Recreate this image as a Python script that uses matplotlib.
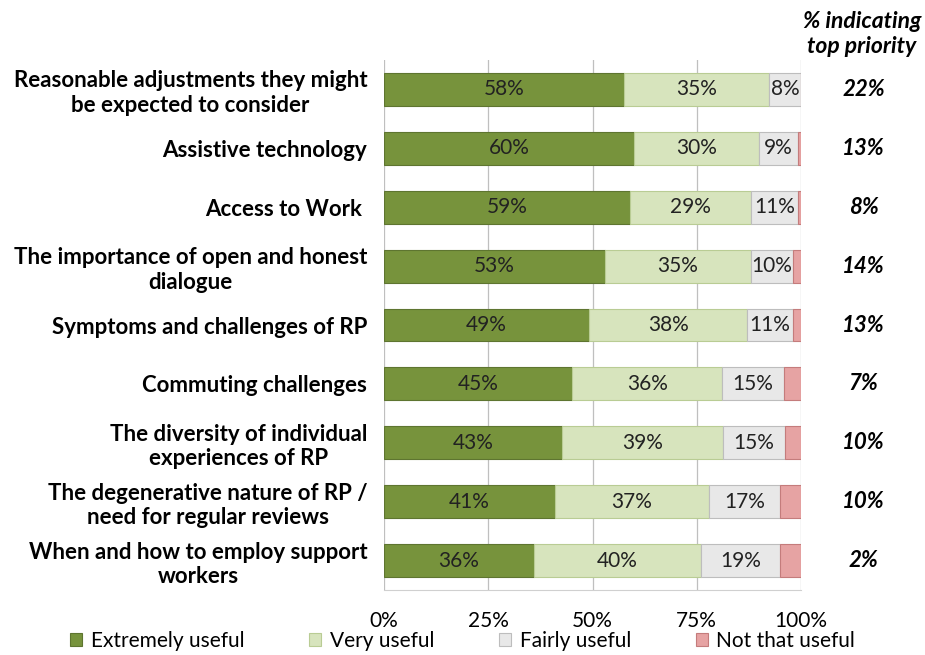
import matplotlib.pyplot as plt

plt.rcParams['font.family'] = ['Lato', 'DejaVu Sans']

categories = [
    "Reasonable adjustments they might\nbe expected to consider",
    "Assistive technology",
    "Access to Work ",
    "The importance of open and honest\ndialogue",
    "Symptoms and challenges of RP",
    "Commuting challenges",
    "The diversity of individual\nexperiences of RP",
    "The degenerative nature of RP /\nneed for regular reviews",
    "When and how to employ support\nworkers",
]
extremely = [57.6, 60.0, 59.0, 53.0, 49.2, 45.1, 42.7, 41.0, 36.0]
very = [34.7, 29.9, 29.0, 35.0, 37.9, 36.0, 38.6, 36.9, 40.0]
fairly = [7.7, 9.4, 11.3, 10.1, 11.0, 14.8, 14.8, 17.1, 19.0]
not_that = [0.0, 0.7, 0.7, 1.9, 1.9, 4.1, 3.9, 5.0, 5.0]
top_priority = ["22%", "13%", "8%", "14%", "13%", "7%", "10%", "10%", "2%"]

series = [
    ("Extremely useful", extremely, "#77933C", "#5E7530"),
    ("Very useful", very, "#D7E4BD", "#B9CC94"),
    ("Fairly useful", fairly, "#E8E8E8", "#BDBDBD"),
    ("Not that useful", not_that, "#E6A3A3", "#C47C7C"),
]

fig = plt.figure(figsize=(9.25, 6.55), dpi=100)
ax = fig.add_axes([384 / 925, 1 - 590 / 655, 417 / 925, 530 / 655])

y = range(len(categories))
left = [0.0] * len(categories)
for name, vals, color, edge in series:
    ax.barh(y, vals, left=left, height=0.56, color=color, edgecolor=edge,
            linewidth=0.8, label=name, zorder=3)
    if name != "Not that useful":
        for i, v in enumerate(vals):
            ax.text(left[i] + v / 2, i, f"{v:.0f}%", ha='center', va='center',
                    fontsize=15, color='#222222', zorder=4)
    left = [a + b for a, b in zip(left, vals)]

ax.set_xlim(0, 100)
ax.set_ylim(len(categories) - 0.5, -0.5)
ax.set_xticks([0, 25, 50, 75, 100])
ax.set_xticklabels(["0%", "25%", "50%", "75%", "100%"], fontsize=15)
ax.tick_params(axis='x', length=0, pad=15)
ax.set_yticks(list(y))
ax.set_yticklabels(categories, fontsize=16, fontweight='bold', multialignment='center')
ax.tick_params(axis='y', length=0, pad=12)
ax.grid(axis='x', color='#BFBFBF', linewidth=0.9, zorder=0)
for s in ['top', 'right', 'left']:
    ax.spines[s].set_visible(False)
ax.spines['bottom'].set_color('#D0D0D0')

# right-hand column
for i, t in enumerate(top_priority):
    ax.text(1.15, i, t, transform=ax.get_yaxis_transform(), ha='center', va='center',
            fontsize=16, fontweight='bold', fontstyle='italic')
fig.text(862 / 925, 1 - 34 / 655, "% indicating\ntop priority", ha='center', va='center',
         fontsize=16.5, fontweight='bold', fontstyle='italic', linespacing=1.2)

fig.legend(loc='center', bbox_to_anchor=(0.5, 1 - 641 / 655), ncol=4, frameon=False,
           fontsize=15, handlelength=0.6, handleheight=0.6, handletextpad=0.4,
           columnspacing=3.1, borderaxespad=0)

fig.savefig("out.png", dpi=100)
